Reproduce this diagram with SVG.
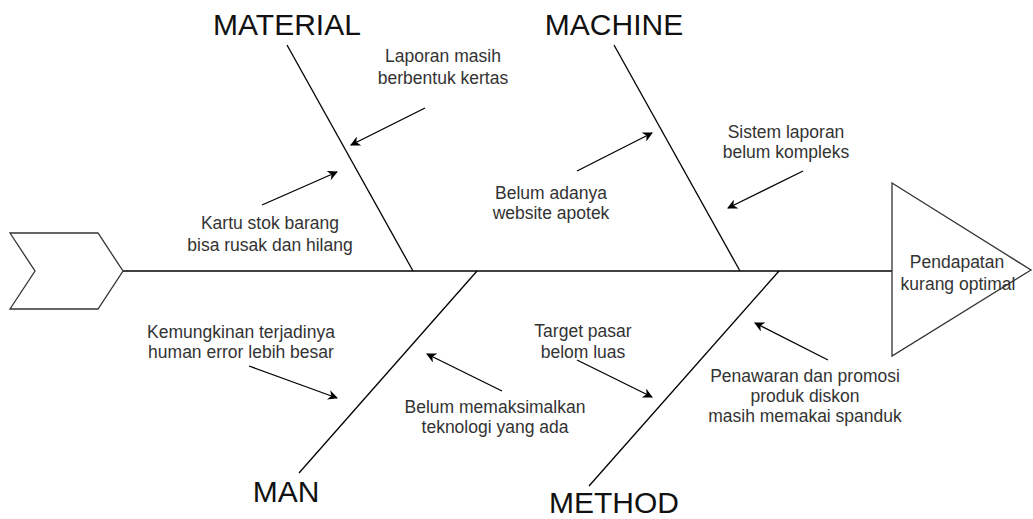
<svg xmlns="http://www.w3.org/2000/svg" width="1033" height="519" viewBox="0 0 1033 519">
<style>
.ln{stroke:#000;stroke-width:1.3;fill:none}
.sh{stroke:#333;stroke-width:1.3;fill:#fff}
.ar{stroke:#000;stroke-width:1.3;fill:none;marker-end:url(#ah)}
.t{font-family:"Liberation Sans",Arial,sans-serif;font-size:17.5px;fill:#333;text-anchor:middle}
.h{font-family:"Liberation Sans",Arial,sans-serif;font-size:30px;fill:#111;text-anchor:middle}
</style>
<defs>
<marker id="ah" viewBox="0 0 10 10" refX="9" refY="5" markerWidth="10" markerHeight="10" markerUnits="userSpaceOnUse" orient="auto">
<path d="M0,0 L10,5 L0,10 L3,5 Z" fill="#000"/>
</marker>
</defs>
<g id="connectors">
<line class="ln" x1="123" y1="271" x2="892" y2="271"/>
<line class="ln" x1="287" y1="45" x2="413" y2="271"/>
<line class="ln" x1="614" y1="45" x2="740" y2="271"/>
<line class="ln" x1="477" y1="271" x2="299" y2="473"/>
<line class="ln" x1="779" y1="271" x2="589" y2="486"/>
<line class="ar" x1="425" y1="108" x2="351" y2="145"/>
<line class="ar" x1="262" y1="205" x2="337" y2="172"/>
<line class="ar" x1="577" y1="171" x2="652" y2="133"/>
<line class="ar" x1="803" y1="171" x2="728" y2="208"/>
<line class="ar" x1="249" y1="366" x2="337" y2="398"/>
<line class="ar" x1="502" y1="391" x2="427" y2="354"/>
<line class="ar" x1="577" y1="360" x2="652" y2="397"/>
<line class="ar" x1="828" y1="360" x2="755" y2="323"/>
</g>
<g id="start">
<polygon class="sh" points="10,233 98,233 123,271 98,309 10,309 35,271"/>
</g>
<g id="head">
<polygon class="sh" points="892,183 1031,270 892,356"/>
<text class="t" x="957" y="268">Pendapatan</text>
<text class="t" x="958" y="290">kurang optimal</text>
</g>
<g id="material"><text class="h" x="287" y="35">MATERIAL</text></g>
<g id="machine"><text class="h" x="614" y="35">MACHINE</text></g>
<g id="man"><text class="h" x="286" y="502">MAN</text></g>
<g id="method"><text class="h" x="614" y="513">METHOD</text></g>
<g id="c1"><text class="t" x="443" y="62">Laporan masih</text><text class="t" x="443" y="84">berbentuk kertas</text></g>
<g id="c2"><text class="t" x="270" y="229">Kartu stok barang</text><text class="t" x="270" y="251">bisa rusak dan hilang</text></g>
<g id="c3"><text class="t" x="551" y="199">Belum adanya</text><text class="t" x="551" y="219">website apotek</text></g>
<g id="c4"><text class="t" x="786" y="138">Sistem laporan</text><text class="t" x="786" y="158">belum kompleks</text></g>
<g id="c5"><text class="t" x="241" y="338">Kemungkinan terjadinya</text><text class="t" x="241" y="358">human error lebih besar</text></g>
<g id="c6"><text class="t" x="583" y="337">Target pasar</text><text class="t" x="583" y="358">belom luas</text></g>
<g id="c7"><text class="t" x="495" y="413">Belum memaksimalkan</text><text class="t" x="495" y="433">teknologi yang ada</text></g>
<g id="c8"><text class="t" x="805" y="382">Penawaran dan promosi</text><text class="t" x="805" y="402">produk diskon</text><text class="t" x="805" y="422">masih memakai spanduk</text></g>
</svg>
